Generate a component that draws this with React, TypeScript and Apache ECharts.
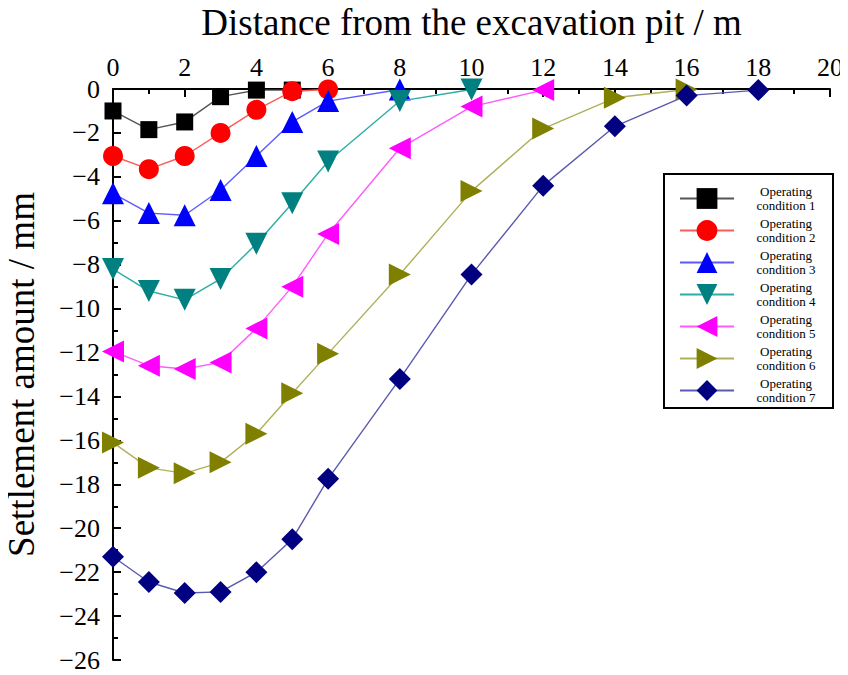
import React, { useEffect, useRef } from "react";
import * as echarts from "echarts";

const xTitle = "Distance from the excavation pit / m";
const yTitle = "Settlement amount / mm";

const names = [
  "Operating condition 1",
  "Operating condition 2",
  "Operating condition 3",
  "Operating condition 4",
  "Operating condition 5",
  "Operating condition 6",
  "Operating condition 7",
];

const x1 = [0, 1, 2, 3, 4, 5];
const y1 = [-1.0, -1.85, -1.5, -0.35, -0.05, -0.05];
const x2 = [0, 1, 2, 3, 4, 5, 6];
const y2 = [-3.05, -3.65, -3.05, -2.0, -0.95, -0.1, -0.02];
const x3 = [0, 1, 2, 3, 4, 5, 6, 8];
const y3 = [-4.75, -5.65, -5.75, -4.6, -3.05, -1.5, -0.55, -0.02];
const x4 = [0, 1, 2, 3, 4, 5, 6, 8, 10];
const y4 = [-8.2, -9.2, -9.6, -8.65, -7.05, -5.2, -3.3, -0.55, -0.02];
const x5 = [0, 1, 2, 3, 4, 5, 6, 8, 10, 12];
const y5 = [-11.95, -12.6, -12.75, -12.45, -10.9, -9.0, -6.6, -2.7, -0.8, -0.05];
const x6 = [0, 1, 2, 3, 4, 5, 6, 8, 10, 12, 14, 16];
const y6 = [-16.1, -17.25, -17.5, -17.0, -15.7, -13.85, -12.05, -8.45, -4.65, -1.8, -0.4, -0.02];
const x7 = [0, 1, 2, 3, 4, 5, 6, 8, 10, 12, 14, 16, 18];
const y7 = [-21.3, -22.45, -22.95, -22.9, -22.0, -20.5, -17.75, -13.2, -8.45, -4.4, -1.7, -0.3, -0.05];

const xs = [x1, x2, x3, x4, x5, x6, x7];
const ys = [y1, y2, y3, y4, y5, y6, y7];

const markerColors = ["#000000", "#ff0000", "#0000ff", "#008080", "#ff00ff", "#808000", "#000080"];
const lineColors = ["#555555", "#ff5a5a", "#5a5aff", "#2aaea6", "#ff5aff", "#b0b05a", "#5a5ab0"];
const symbols = ["rect", "circle", "triangle", "triangle", "triangle", "triangle", "diamond"];
const rotates = [0, 0, 0, 180, 90, -90, 0];
const sizes = [17, 20, 22, 22, 22, 22, 22];

const FONT = "Liberation Serif";

export default function App() {
  const ref = useRef<HTMLDivElement>(null);
  useEffect(() => {
    if (!ref.current) return;
    const chart = echarts.init(ref.current, null, { renderer: "svg" });
    const series = names.map((n, i) => ({
      name: n,
      type: "line",
      data: xs[i].map((x, j) => [x, ys[i][j]]),
      symbol: symbols[i],
      symbolRotate: rotates[i],
      symbolSize: sizes[i],
      showAllSymbol: true,
      lineStyle: { color: lineColors[i], width: 1.4 },
      itemStyle: { color: markerColors[i] },
      clip: true,
      z: 2 + i,
    }));
    chart.setOption({
      animation: false,
      backgroundColor: "#ffffff",
      grid: { left: 113, top: 89, right: 18, bottom: 15, containLabel: false, outerBoundsMode: "none" },
      xAxis: {
        type: "value",
        position: "top",
        min: 0,
        max: 20,
        interval: 2,
        name: xTitle,
        nameLocation: "middle",
        nameGap: 48,
        nameTextStyle: { fontFamily: FONT, fontSize: 37, lineHeight: 38, color: "#000" },
        axisLine: { show: true, onZero: false, lineStyle: { color: "#000", width: 2 } },
        axisTick: { show: true, inside: true, length: 8, lineStyle: { color: "#000", width: 2 } },
        minorTick: { show: true, splitNumber: 2, length: 5, lineStyle: { color: "#000", width: 2 } },
        axisLabel: { fontFamily: FONT, fontSize: 26, color: "#000", margin: 9 },
        splitLine: { show: false },
      },
      yAxis: {
        type: "value",
        min: -26,
        max: 0,
        interval: 2,
        name: yTitle,
        nameLocation: "middle",
        nameGap: 73,
        nameTextStyle: { fontFamily: FONT, fontSize: 37, color: "#000" },
        axisLine: { show: true, onZero: false, lineStyle: { color: "#000", width: 2 } },
        axisTick: { show: true, inside: true, length: 8, lineStyle: { color: "#000", width: 2 } },
        minorTick: { show: true, splitNumber: 2, length: 5, lineStyle: { color: "#000", width: 2 } },
        axisLabel: {
          fontFamily: FONT,
          fontSize: 26,
          color: "#000",
          margin: 13,
          formatter: (v: number) => String(v).replace("-", "\u2212"),
        },
        splitLine: { show: false },
      },
      legend: {
        orient: "vertical",
        left: 664,
        top: 174,
        padding: [11, 0, 4, 15],
        itemWidth: 54,
        itemHeight: 26,
        itemGap: 5,
        borderColor: "#000",
        borderWidth: 2,
        backgroundColor: "#fff",
        data: names,
        formatter: (n: string) => {
          const num = n.split(" ").pop();
          return "{a|Operating}\n{a|condition " + num + "}";
        },
        textStyle: {
          fontFamily: FONT,
          fontSize: 13,
          color: "#000",
          rich: {
            a: { fontFamily: FONT, fontSize: 13, lineHeight: 14, width: 94, align: "center", color: "#000" },
          },
        },
      },
      series,
    });
    return () => chart.dispose();
  }, []);
  return <div ref={ref} style={{ width: 848, height: 675, marginLeft: -8, marginTop: -8 }} />;
}
